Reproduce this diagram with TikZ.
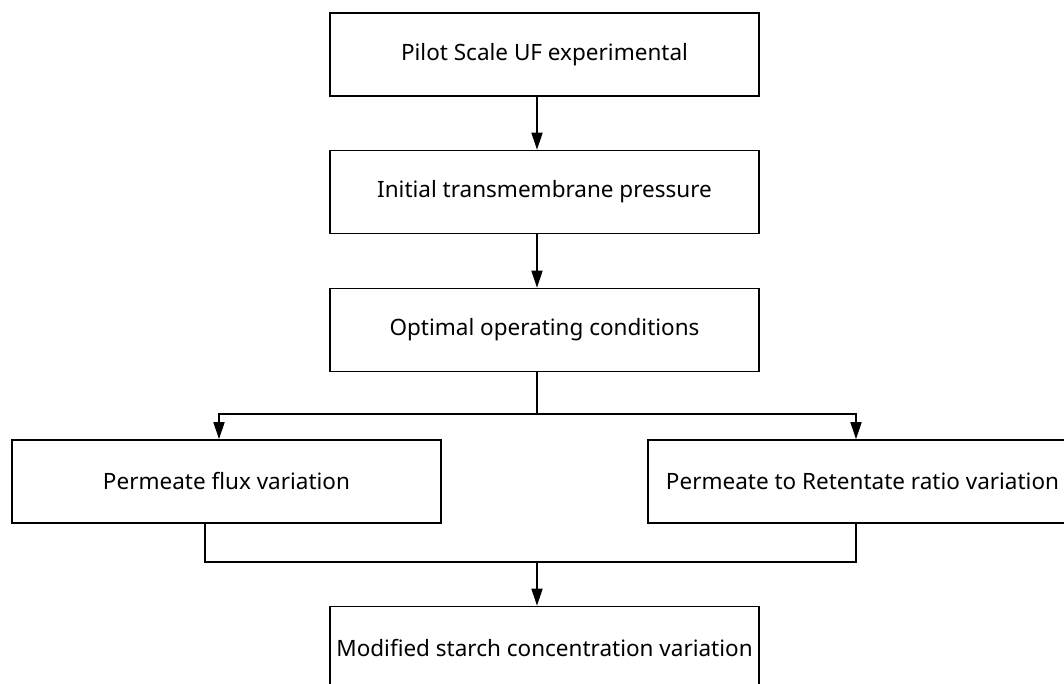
\documentclass[tikz,border=0pt]{standalone}
\usepackage{fontspec}
\setmainfont{Noto Sans}
\usepackage{tikz}
\usetikzlibrary{arrows.meta,positioning}

\begin{document}
\begin{tikzpicture}[x=1pt,y=-1pt,
  stage/.style={shape=rectangle,draw=black,line width=1.6pt,minimum width=429pt,minimum height=83pt,inner sep=0pt,font=\fontsize{22.5}{26}\selectfont},
  flow/.style={line width=1.6pt,-{Triangle[length=17pt,width=11pt]}}]

\useasboundingbox (0,0) rectangle (1064,684);
\clip (0,0) rectangle (1064,684);

\node[stage] (pilot) at (544.5,54.5) {Pilot Scale UF experimental};
\node[stage] (initial) at (544.5,192) {Initial transmembrane pressure};
\node[stage] (optimal) at (544.5,330) {Optimal operating conditions};
\node[stage] (flux) at (226.5,481.5) {Permeate flux variation};
\node[stage] (ratio) at (862.5,481.5) {Permeate to Retentate ratio variation};
\node[stage] (starch) at (544.5,648) {Modified starch concentration variation};

\coordinate (split) at (537,414);
\coordinate (merge) at (537,562);

\path [flow] ([xshift=-7.5pt]pilot.south) edge ([xshift=-7.5pt]initial.north);
\path [flow] ([xshift=-7.5pt]initial.south) edge ([xshift=-7.5pt]optimal.north);
\draw [line width=1.6pt] ([xshift=-7.5pt]optimal.south) -- (split);
\draw [flow] (split) -| ([xshift=-7.5pt]flux.north);
\draw [flow] (split) -| ([xshift=-6.5pt]ratio.north);
%\draw [flow] (optimal) -- (flux);
\draw [line width=1.6pt] ([xshift=-21.5pt]flux.south) |- (merge) -| ([xshift=-6.5pt]ratio.south);
\draw [flow] (merge) -- ([xshift=-7.5pt]starch.north);

\end{tikzpicture}
\end{document}
